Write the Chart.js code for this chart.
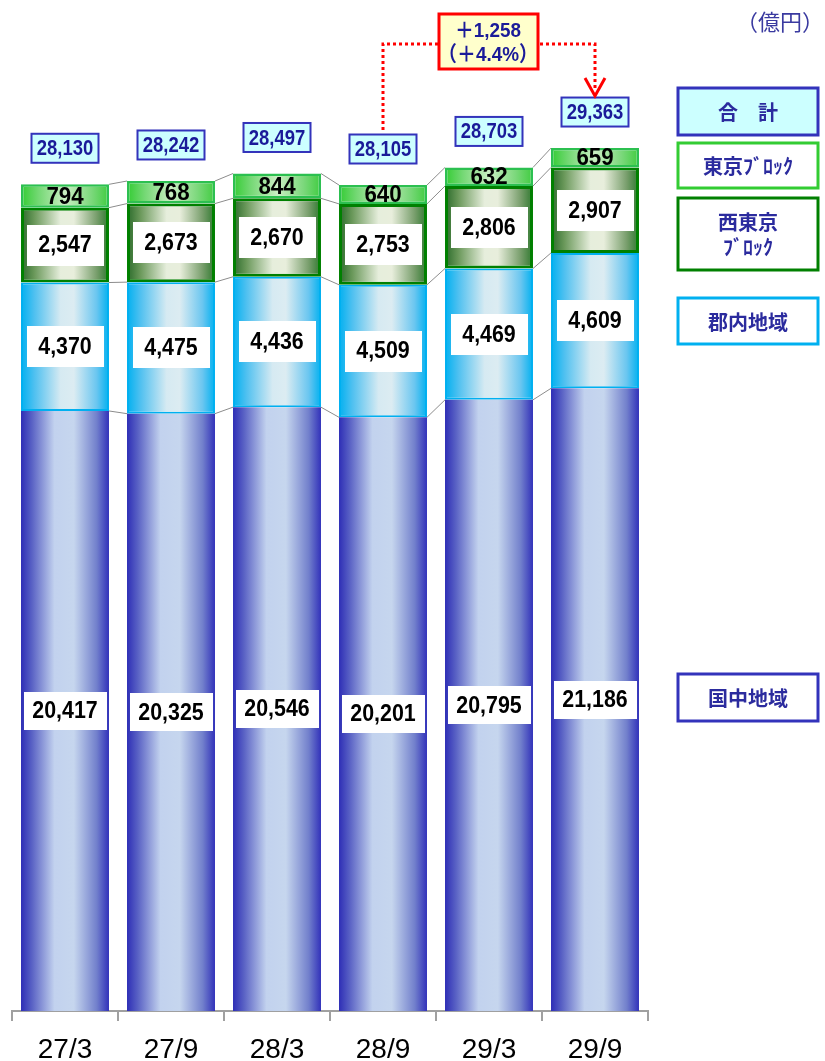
<!DOCTYPE html>
<html>
<head>
<meta charset="utf-8">
<script src="https://cdn.jsdelivr.net/npm/chart.js@4/dist/chart.umd.min.js"></script>
<style>
html,body{margin:0;padding:0;background:#fff;}
#wrap{width:825px;height:1061px;position:relative;}
</style>
</head>
<body>
<div id="wrap"><canvas id="c" width="825" height="1061"></canvas></div>
<script>
const categories = ['27/3','27/9','28/3','28/9','29/3','29/9'];
const kokuchu = [20417,20325,20546,20201,20795,21186];
const gunnai = [4370,4475,4436,4509,4469,4609];
const nishiTokyo = [2547,2673,2670,2753,2806,2907];
const tokyo = [794,768,844,640,632,659];
const totals = [28130,28242,28497,28105,28703,29363];
const seriesNames = ['国中地域','郡内地域','西東京ブロック','東京ブロック'];
const diffLines = ['＋1,258','（＋4.4%）'];
const unitLabel = '（億円）';

const BAR_PCT = 0.83;
function fmt(v){return v.toLocaleString('en-US');}
function halfW(chart){const xs=chart.scales.x;return xs.width/categories.length*BAR_PCT/2;}
function grad(stops){
  return function(ctx){
    const chart=ctx.chart;
    if(!chart.chartArea||ctx.dataIndex===undefined) return stops[Math.floor(stops.length/2)][1];
    const c=chart.scales.x.getPixelForValue(ctx.dataIndex);const h=halfW(chart);
    const g=chart.ctx.createLinearGradient(c-h,0,c+h,0);
    stops.forEach(s=>g.addColorStop(s[0],s[1]));return g;
  };
}
const gKoku=[[0,'#2e2eb6'],[0.12,'#5860c4'],[0.38,'#c2d2ee'],[0.6,'#c6d6ee'],[0.86,'#7280cc'],[1,'#3232ba']];
const gGun=[[0,'#00b0f0'],[0.15,'#4ec0f0'],[0.45,'#d6eaf2'],[0.6,'#dcecf2'],[0.86,'#6ac6f0'],[1,'#00b0f0']];
const gNishi=[[0,'#2a6a2a'],[0.15,'#6a985a'],[0.45,'#e6eedc'],[0.6,'#e8eedc'],[0.86,'#789e6c'],[1,'#2e782e']];
const gTokyo=[[0,'#33cc33'],[0.2,'#74d874'],[0.5,'#caeec2'],[0.8,'#7cd87c'],[1,'#40cc40']];

const NUM_FONT='"Liberation Sans", Arial, sans-serif';
const CJK='"Noto Sans CJK JP", sans-serif';
const NAVY='#1a1a99';

function narrowText(ctx,text,x,y,sx){
  ctx.save();ctx.translate(x,y);ctx.scale(sx,1);ctx.fillText(text,0,0);ctx.restore();
}

const labelBoxes=[{w:83,h:38},{w:77,h:41},{w:77,h:41},null];

const overlay={
  id:'overlay',
  beforeDatasetsDraw(chart){
    const ctx=chart.ctx,xs=chart.scales.x,ys=chart.scales.y,h=halfW(chart);
    ctx.save();ctx.strokeStyle='#8c8c8c';ctx.lineWidth=1;
    const cum=i=>{const a=kokuchu[i],b=a+gunnai[i],c=b+nishiTokyo[i],d=c+tokyo[i];return [a,b,c,d];};
    for(let i=0;i<categories.length-1;i++){
      const c0=cum(i),c1=cum(i+1);
      const x0=xs.getPixelForValue(i)+h,x1=xs.getPixelForValue(i+1)-h;
      for(let k=0;k<4;k++){
        ctx.beginPath();ctx.moveTo(x0,ys.getPixelForValue(c0[k]));ctx.lineTo(x1,ys.getPixelForValue(c1[k]));ctx.stroke();
      }
    }
    ctx.restore();
  },
  afterDatasetsDraw(chart){
    const ctx=chart.ctx,xs=chart.scales.x,ys=chart.scales.y;
    ctx.save();
    ctx.textAlign='center';ctx.textBaseline='middle';
    chart.data.datasets.forEach((ds,di)=>{
      const meta=chart.getDatasetMeta(di);
      meta.data.forEach((el,i)=>{
        const cx=el.x,cy=(el.y+el.base)/2;
        const b=labelBoxes[di];
        if(b){ctx.fillStyle='#ffffff';ctx.fillRect(Math.round(cx-b.w/2),Math.round(cy-b.h/2),b.w,b.h);}
        ctx.fillStyle='#000000';
        ctx.font='bold '+(b?23:24)+'px '+NUM_FONT;
        narrowText(ctx,fmt(ds.data[i]),cx,cy+1,0.93);
      });
    });
    // totals
    totals.forEach((t,i)=>{
      const cx=xs.getPixelForValue(i),top=ys.getPixelForValue(t);
      const cy=top-36,w=67,hh=29;
      ctx.fillStyle='#ccffff';ctx.fillRect(cx-w/2,cy-hh/2,w,hh);
      ctx.strokeStyle='#3333bb';ctx.lineWidth=2;ctx.strokeRect(cx-w/2,cy-hh/2,w,hh);
      ctx.fillStyle=NAVY;ctx.font='bold 22px '+NUM_FONT;narrowText(ctx,fmt(t),cx,cy+1,0.84);
    });
    ctx.restore();
  },
  afterDraw(chart){
    const ctx=chart.ctx,xs=chart.scales.x,ys=chart.scales.y;
    ctx.save();
    // annotation
    const x3=xs.getPixelForValue(3),x5=xs.getPixelForValue(5);
    const top3=ys.getPixelForValue(totals[3])-36-15,top5=ys.getPixelForValue(totals[5])-36-15;
    ctx.strokeStyle='#ff0000';ctx.lineWidth=3;ctx.setLineDash([3,3]);
    ctx.beginPath();ctx.moveTo(438,44);ctx.lineTo(x3,44);ctx.lineTo(x3,top3-1);ctx.stroke();
    ctx.beginPath();ctx.moveTo(540,44);ctx.lineTo(x5,44);ctx.lineTo(x5,top5-8);ctx.stroke();
    ctx.setLineDash([]);
    ctx.beginPath();ctx.moveTo(x5-10,78);ctx.lineTo(x5,96);ctx.lineTo(x5+10,78);ctx.stroke();
    ctx.fillStyle='#ffffcc';ctx.fillRect(439,14,99,55);
    ctx.lineWidth=3;ctx.strokeRect(439,14,99,55);
    ctx.fillStyle=NAVY;ctx.textAlign='center';ctx.textBaseline='middle';
    ctx.font='bold 21px '+NUM_FONT+', '+CJK;
    narrowText(ctx,diffLines[0],488,31,0.9);
    narrowText(ctx,diffLines[1],488,55,0.9);
    // unit
    ctx.fillStyle='#3a3aa0';ctx.font='22px '+CJK;ctx.textAlign='right';
    ctx.fillText(unitLabel,824,22);
    // legend
    const leg=[
      {y:88,h:47,border:'#3333bb',fill:'#ccffff',lines:['合　計']},
      {y:143,h:45,border:'#33cc33',fill:'#ffffff',lines:['東京ﾌﾞﾛｯｸ']},
      {y:198,h:72,border:'#008000',fill:'#ffffff',lines:['西東京','ﾌﾞﾛｯｸ']},
      {y:298,h:46,border:'#00b0f0',fill:'#ffffff',lines:['郡内地域']},
      {y:674,h:47,border:'#3333bb',fill:'#ffffff',lines:['国中地域']}
    ];
    ctx.textAlign='center';
    leg.forEach(L=>{
      ctx.fillStyle=L.fill;ctx.fillRect(678,L.y,140,L.h);
      ctx.strokeStyle=L.border;ctx.lineWidth=3;ctx.strokeRect(678,L.y,140,L.h);
      ctx.fillStyle='#2b2b9e';ctx.font='bold 20px '+CJK;
      const n=L.lines.length,cy=L.y+L.h/2;
      L.lines.forEach((t,k)=>ctx.fillText(t,748,cy+(k-(n-1)/2)*25+1));
    });
    ctx.restore();
  }
};

const mk=(label,data,stops,bc,bw)=>({label,data,backgroundColor:grad(stops),borderColor:bc,borderWidth:bw,borderSkipped:false,barPercentage:BAR_PCT,categoryPercentage:1});

new Chart(document.getElementById('c'),{
  type:'bar',
  data:{labels:categories,datasets:[
    mk(seriesNames[0],kokuchu,gKoku,'#3a3ac0',0),
    mk(seriesNames[1],gunnai,gGun,'#00b0f0',2),
    mk(seriesNames[2],nishiTokyo,gNishi,'#008000',3),
    mk(seriesNames[3],tokyo,gTokyo,'#2cc050',2.5)
  ]},
  options:{
    responsive:false,animation:false,devicePixelRatio:1,
    layout:{padding:{left:12,right:177,top:0,bottom:0}},
    plugins:{legend:{display:false},tooltip:{enabled:false}},
    scales:{
      x:{stacked:true,
        grid:{offset:true,drawOnChartArea:false,drawTicks:true,tickLength:10,color:'#a0a0a0',lineWidth:2},
        border:{display:true,color:'#a0a0a0',width:2},
        ticks:{color:'#000',padding:15,font:{family:NUM_FONT,size:28,lineHeight:1}},
        afterFit(s){s.height=50;}
      },
      y:{stacked:true,display:false,min:0,max:34400}
    }
  },
  plugins:[overlay]
});
</script>
</body>
</html>
